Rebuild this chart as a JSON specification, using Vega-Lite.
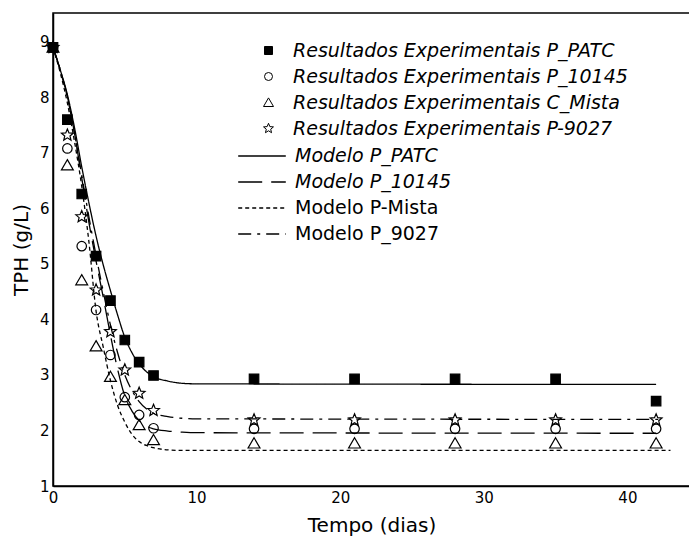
{
  "$schema": "https://vega.github.io/schema/vega-lite/v6.json",
  "width": 637,
  "height": 473,
  "autosize": {"type": "none"},
  "padding": {"left": 53, "top": 13, "right": 0, "bottom": 54},
  "background": "white",
  "datasets": {
    "pontos": [
      {"serie": "Resultados Experimentais P_PATC", "t": 0, "v": 8.9},
      {"serie": "Resultados Experimentais P_PATC", "t": 1, "v": 7.6},
      {"serie": "Resultados Experimentais P_PATC", "t": 2, "v": 6.26},
      {"serie": "Resultados Experimentais P_PATC", "t": 3, "v": 5.14},
      {"serie": "Resultados Experimentais P_PATC", "t": 4, "v": 4.34},
      {"serie": "Resultados Experimentais P_PATC", "t": 5, "v": 3.63},
      {"serie": "Resultados Experimentais P_PATC", "t": 6, "v": 3.23},
      {"serie": "Resultados Experimentais P_PATC", "t": 7, "v": 2.99},
      {"serie": "Resultados Experimentais P_PATC", "t": 14, "v": 2.93},
      {"serie": "Resultados Experimentais P_PATC", "t": 21, "v": 2.93},
      {"serie": "Resultados Experimentais P_PATC", "t": 28, "v": 2.93},
      {"serie": "Resultados Experimentais P_PATC", "t": 35, "v": 2.93},
      {"serie": "Resultados Experimentais P_PATC", "t": 42, "v": 2.53},
      {"serie": "Resultados Experimentais P_10145", "t": 0, "v": 8.9},
      {"serie": "Resultados Experimentais P_10145", "t": 1, "v": 7.08},
      {"serie": "Resultados Experimentais P_10145", "t": 2, "v": 5.32},
      {"serie": "Resultados Experimentais P_10145", "t": 3, "v": 4.17},
      {"serie": "Resultados Experimentais P_10145", "t": 4, "v": 3.36},
      {"serie": "Resultados Experimentais P_10145", "t": 5, "v": 2.6},
      {"serie": "Resultados Experimentais P_10145", "t": 6, "v": 2.28},
      {"serie": "Resultados Experimentais P_10145", "t": 7, "v": 2.04},
      {"serie": "Resultados Experimentais P_10145", "t": 14, "v": 2.03},
      {"serie": "Resultados Experimentais P_10145", "t": 21, "v": 2.03},
      {"serie": "Resultados Experimentais P_10145", "t": 28, "v": 2.03},
      {"serie": "Resultados Experimentais P_10145", "t": 35, "v": 2.03},
      {"serie": "Resultados Experimentais P_10145", "t": 42, "v": 2.03},
      {"serie": "Resultados Experimentais  C_Mista", "t": 0, "v": 8.9},
      {"serie": "Resultados Experimentais  C_Mista", "t": 1, "v": 6.78},
      {"serie": "Resultados Experimentais  C_Mista", "t": 2, "v": 4.71},
      {"serie": "Resultados Experimentais  C_Mista", "t": 3, "v": 3.52},
      {"serie": "Resultados Experimentais  C_Mista", "t": 4, "v": 2.97},
      {"serie": "Resultados Experimentais  C_Mista", "t": 5, "v": 2.55},
      {"serie": "Resultados Experimentais  C_Mista", "t": 6, "v": 2.1},
      {"serie": "Resultados Experimentais  C_Mista", "t": 7, "v": 1.83},
      {"serie": "Resultados Experimentais  C_Mista", "t": 14, "v": 1.77},
      {"serie": "Resultados Experimentais  C_Mista", "t": 21, "v": 1.77},
      {"serie": "Resultados Experimentais  C_Mista", "t": 28, "v": 1.77},
      {"serie": "Resultados Experimentais  C_Mista", "t": 35, "v": 1.77},
      {"serie": "Resultados Experimentais  C_Mista", "t": 42, "v": 1.77},
      {"serie": "Resultados Experimentais P-9027", "t": 0, "v": 8.9},
      {"serie": "Resultados Experimentais P-9027", "t": 1, "v": 7.32},
      {"serie": "Resultados Experimentais P-9027", "t": 2, "v": 5.85},
      {"serie": "Resultados Experimentais P-9027", "t": 3, "v": 4.53},
      {"serie": "Resultados Experimentais P-9027", "t": 4, "v": 3.78},
      {"serie": "Resultados Experimentais P-9027", "t": 5, "v": 3.09},
      {"serie": "Resultados Experimentais P-9027", "t": 6, "v": 2.67},
      {"serie": "Resultados Experimentais P-9027", "t": 7, "v": 2.36},
      {"serie": "Resultados Experimentais P-9027", "t": 14, "v": 2.19},
      {"serie": "Resultados Experimentais P-9027", "t": 21, "v": 2.19},
      {"serie": "Resultados Experimentais P-9027", "t": 28, "v": 2.19},
      {"serie": "Resultados Experimentais P-9027", "t": 35, "v": 2.19},
      {"serie": "Resultados Experimentais P-9027", "t": 42, "v": 2.19}
    ],
    "modelos": [
      {"modelo": "Modelo P_PATC", "t": 0, "v": 8.9},
      {"modelo": "Modelo P_PATC", "t": 0.5, "v": 8.5},
      {"modelo": "Modelo P_PATC", "t": 1, "v": 8.05},
      {"modelo": "Modelo P_PATC", "t": 1.5, "v": 7.45},
      {"modelo": "Modelo P_PATC", "t": 2, "v": 6.75},
      {"modelo": "Modelo P_PATC", "t": 2.5, "v": 6.1},
      {"modelo": "Modelo P_PATC", "t": 3, "v": 5.5},
      {"modelo": "Modelo P_PATC", "t": 3.5, "v": 4.98},
      {"modelo": "Modelo P_PATC", "t": 4, "v": 4.52},
      {"modelo": "Modelo P_PATC", "t": 4.5, "v": 4.08},
      {"modelo": "Modelo P_PATC", "t": 5, "v": 3.68},
      {"modelo": "Modelo P_PATC", "t": 5.5, "v": 3.4},
      {"modelo": "Modelo P_PATC", "t": 6, "v": 3.2},
      {"modelo": "Modelo P_PATC", "t": 6.5, "v": 3.06},
      {"modelo": "Modelo P_PATC", "t": 7, "v": 2.97},
      {"modelo": "Modelo P_PATC", "t": 8, "v": 2.89},
      {"modelo": "Modelo P_PATC", "t": 9, "v": 2.85},
      {"modelo": "Modelo P_PATC", "t": 10, "v": 2.84},
      {"modelo": "Modelo P_PATC", "t": 42, "v": 2.83},
      {"modelo": "Modelo P_10145", "t": 0, "v": 8.9},
      {"modelo": "Modelo P_10145", "t": 0.5, "v": 8.5},
      {"modelo": "Modelo P_10145", "t": 1, "v": 8.02},
      {"modelo": "Modelo P_10145", "t": 1.5, "v": 7.35},
      {"modelo": "Modelo P_10145", "t": 2, "v": 6.55},
      {"modelo": "Modelo P_10145", "t": 2.5, "v": 5.75},
      {"modelo": "Modelo P_10145", "t": 3, "v": 5.05},
      {"modelo": "Modelo P_10145", "t": 3.5, "v": 4.4},
      {"modelo": "Modelo P_10145", "t": 4, "v": 3.72},
      {"modelo": "Modelo P_10145", "t": 4.5, "v": 3.1},
      {"modelo": "Modelo P_10145", "t": 5, "v": 2.62},
      {"modelo": "Modelo P_10145", "t": 5.5, "v": 2.35},
      {"modelo": "Modelo P_10145", "t": 6, "v": 2.18},
      {"modelo": "Modelo P_10145", "t": 6.5, "v": 2.08},
      {"modelo": "Modelo P_10145", "t": 7, "v": 2.03},
      {"modelo": "Modelo P_10145", "t": 8, "v": 1.99},
      {"modelo": "Modelo P_10145", "t": 9, "v": 1.97},
      {"modelo": "Modelo P_10145", "t": 10, "v": 1.96},
      {"modelo": "Modelo P_10145", "t": 42, "v": 1.95},
      {"modelo": "Modelo P-Mista", "t": 0, "v": 8.9},
      {"modelo": "Modelo P-Mista", "t": 0.5, "v": 8.45},
      {"modelo": "Modelo P-Mista", "t": 1, "v": 7.9},
      {"modelo": "Modelo P-Mista", "t": 1.5, "v": 7.2},
      {"modelo": "Modelo P-Mista", "t": 2, "v": 6.4},
      {"modelo": "Modelo P-Mista", "t": 2.5, "v": 5.4},
      {"modelo": "Modelo P-Mista", "t": 3, "v": 4.15},
      {"modelo": "Modelo P-Mista", "t": 3.5, "v": 3.5},
      {"modelo": "Modelo P-Mista", "t": 4, "v": 2.9},
      {"modelo": "Modelo P-Mista", "t": 4.5, "v": 2.45},
      {"modelo": "Modelo P-Mista", "t": 5, "v": 2.15},
      {"modelo": "Modelo P-Mista", "t": 5.5, "v": 1.93},
      {"modelo": "Modelo P-Mista", "t": 6, "v": 1.8},
      {"modelo": "Modelo P-Mista", "t": 6.5, "v": 1.73},
      {"modelo": "Modelo P-Mista", "t": 7, "v": 1.69},
      {"modelo": "Modelo P-Mista", "t": 8, "v": 1.65},
      {"modelo": "Modelo P-Mista", "t": 9, "v": 1.64},
      {"modelo": "Modelo P-Mista", "t": 10, "v": 1.64},
      {"modelo": "Modelo P-Mista", "t": 43, "v": 1.64},
      {"modelo": "Modelo P_9027", "t": 0, "v": 8.9},
      {"modelo": "Modelo P_9027", "t": 0.5, "v": 8.5},
      {"modelo": "Modelo P_9027", "t": 1, "v": 8.0},
      {"modelo": "Modelo P_9027", "t": 1.5, "v": 7.35},
      {"modelo": "Modelo P_9027", "t": 2, "v": 6.6},
      {"modelo": "Modelo P_9027", "t": 2.5, "v": 5.85},
      {"modelo": "Modelo P_9027", "t": 3, "v": 5.15},
      {"modelo": "Modelo P_9027", "t": 3.5, "v": 4.5},
      {"modelo": "Modelo P_9027", "t": 4, "v": 3.9},
      {"modelo": "Modelo P_9027", "t": 4.5, "v": 3.4},
      {"modelo": "Modelo P_9027", "t": 5, "v": 3.0},
      {"modelo": "Modelo P_9027", "t": 5.5, "v": 2.72},
      {"modelo": "Modelo P_9027", "t": 6, "v": 2.52},
      {"modelo": "Modelo P_9027", "t": 6.5, "v": 2.39},
      {"modelo": "Modelo P_9027", "t": 7, "v": 2.31},
      {"modelo": "Modelo P_9027", "t": 8, "v": 2.25},
      {"modelo": "Modelo P_9027", "t": 9, "v": 2.22},
      {"modelo": "Modelo P_9027", "t": 10, "v": 2.21},
      {"modelo": "Modelo P_9027", "t": 42.5, "v": 2.2}
    ]
  },
  "layer": [
    {
      "data": {"name": "modelos"},
      "mark": {"type": "line", "color": "black", "strokeWidth": 1.3, "interpolate": "monotone"},
      "encoding": {
        "x": {"field": "t", "type": "quantitative", "scale": {"domain": [0, 44.36], "nice": false, "zero": false},
              "axis": {"values": [0, 10, 20, 30, 40], "title": "Tempo (dias)"}},
        "y": {"field": "v", "type": "quantitative", "scale": {"domain": [1, 9.52], "nice": false, "zero": false},
              "axis": {"values": [1, 2, 3, 4, 5, 6, 7, 8, 9], "title": "TPH (g/L)"}},
        "strokeDash": {
          "field": "modelo", "type": "nominal",
          "scale": {"domain": ["Modelo P_PATC", "Modelo P_10145", "Modelo P-Mista", "Modelo P_9027"],
                    "range": [[1, 0], [24, 9], [4, 3], [13, 6, 3, 6]]},
          "legend": {
            "title": null, "orient": "none", "legendX": 194, "legendY": 128,
            "symbolType": "M-1.7,0L1.7,0", "symbolSize": 784, "symbolStrokeWidth": 1.3, "symbolStrokeColor": "black",
            "labelOffset": 18, "rowPadding": 1, "labelFontSize": 19, "labelLimit": 500,
            "encode": {
              "labels": {"update": {"fontStyle": {"signal": "datum.value === 'Modelo P-Mista' || datum.value === 'Modelo P_9027' ? 'normal' : 'italic'"}}}
            }
          }
        }
      }
    },
    {
      "data": {"name": "pontos"},
      "mark": {"type": "point", "strokeWidth": 1.2, "opacity": 1, "size": 90},
      "encoding": {
        "x": {"field": "t", "type": "quantitative"},
        "y": {"field": "v", "type": "quantitative"},
        "shape": {
          "field": "serie", "type": "nominal",
          "scale": {"domain": ["Resultados Experimentais P_PATC", "Resultados Experimentais P_10145", "Resultados Experimentais  C_Mista", "Resultados Experimentais P-9027"],
                    "range": ["square", "circle", "M0,-1.15L1.25,1L-1.25,1Z", "M0,-1.3L0.34,-0.47L1.24,-0.4L0.55,0.18L0.76,1.05L0,0.57L-0.76,1.05L-0.55,0.18L-1.24,-0.4L-0.34,-0.47Z"]},
          "legend": {
            "title": null, "orient": "none", "legendX": 206, "legendY": 28,
            "symbolSize": 64, "labelOffset": 15, "rowPadding": 6, "labelFontSize": 19, "labelLimit": 500,
            "labelFontStyle": "italic", "symbolStrokeWidth": 1
          }
        },
        "fill": {
          "field": "serie", "type": "nominal",
          "scale": {"domain": ["Resultados Experimentais P_PATC", "Resultados Experimentais P_10145", "Resultados Experimentais  C_Mista", "Resultados Experimentais P-9027"],
                    "range": ["black", "transparent", "transparent", "transparent"]}
        },
        "stroke": {
          "field": "serie", "type": "nominal",
          "scale": {"domain": ["Resultados Experimentais P_PATC", "Resultados Experimentais P_10145", "Resultados Experimentais  C_Mista", "Resultados Experimentais P-9027"],
                    "range": ["black", "black", "black", "black"]}
        }
      }
    }
  ],
  "config": {
    "font": "DejaVu Sans",
    "view": {"stroke": "black", "strokeWidth": 1.5},
    "axis": {
      "domainColor": "black", "domainWidth": 1.5, "ticks": false, "grid": false,
      "labelColor": "black", "labelFontSize": 15, "labelPadding": 4, "labelFlush": false,
      "titleColor": "black", "titleFontSize": 20, "titleFontWeight": "normal"
    },
    "axisX": {"titlePadding": 10},
    "axisY": {"titlePadding": 8},
    "legend": {"labelColor": "black", "padding": 0}
  }
}
